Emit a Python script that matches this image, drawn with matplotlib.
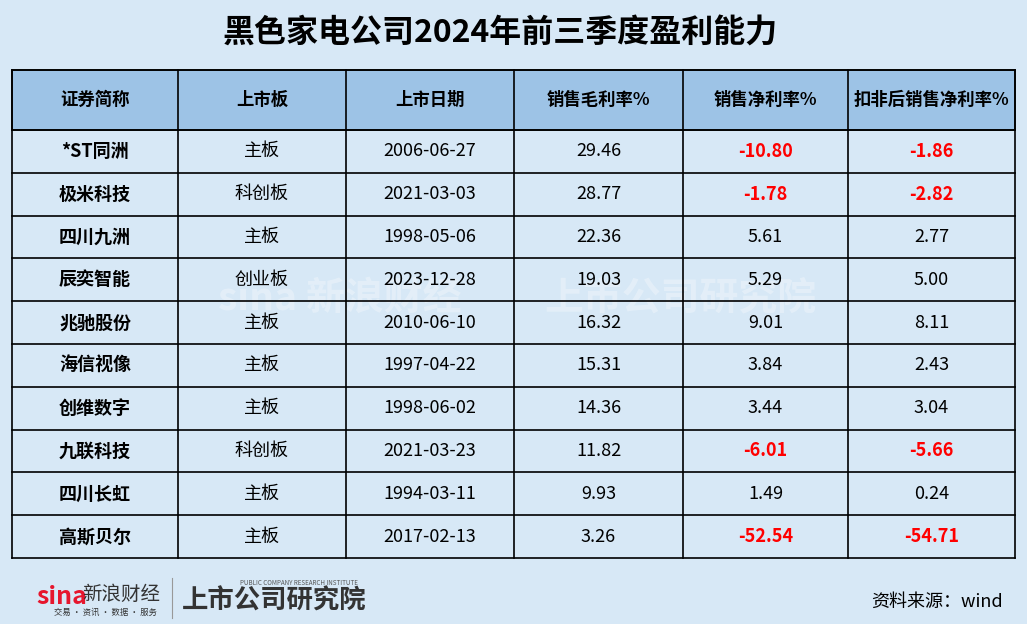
import matplotlib.pyplot as plt
from matplotlib.patches import Rectangle

plt.rcParams["font.family"] = ["Noto Sans CJK SC", "DejaVu Sans"]

title = "黑色家电公司2024年前三季度盈利能力"
headers = ["证券简称", "上市板", "上市日期", "销售毛利率%", "销售净利率%", "扣非后销售净利率%"]
names = ["*ST同洲", "极米科技", "四川九洲", "辰奕智能", "兆驰股份", "海信视像", "创维数字", "九联科技", "四川长虹", "高斯贝尔"]
boards = ["主板", "科创板", "主板", "创业板", "主板", "主板", "主板", "科创板", "主板", "主板"]
dates = ["2006-06-27", "2021-03-03", "1998-05-06", "2023-12-28", "2010-06-10",
         "1997-04-22", "1998-06-02", "2021-03-23", "1994-03-11", "2017-02-13"]
gross = [29.46, 28.77, 22.36, 19.03, 16.32, 15.31, 14.36, 11.82, 9.93, 3.26]
net = [-10.80, -1.78, 5.61, 5.29, 9.01, 3.84, 3.44, -6.01, 1.49, -52.54]
net_adj = [-1.86, -2.82, 2.77, 5.00, 8.11, 2.43, 3.04, -5.66, 0.24, -54.71]

bg = "#D7E8F6"
head_bg = "#9DC3E6"
col_x = [12, 178, 346, 514, 683, 848, 1015]
head_top, head_bot = 70, 130
row_h = (558 - head_bot) / len(names)

fig = plt.figure(figsize=(10.27, 6.24), dpi=100, facecolor=bg)
ax = fig.add_axes([0, 0, 1, 1])
ax.set_xlim(0, 1027)
ax.set_ylim(624, 0)
ax.axis("off")

ax.text(500, 34, title, ha="center", va="center", fontsize=23, fontweight="bold")

# faint watermark
ax.text(340, 298, "sina 新浪财经", fontsize=28, color="white", alpha=0.3, ha="center", va="center",
        fontweight="bold", style="italic", zorder=0)
ax.text(680, 298, "上市公司研究院", fontsize=28, color="white", alpha=0.3, ha="center", va="center",
        fontweight="bold", zorder=0)

ax.add_patch(Rectangle((col_x[0], head_top), col_x[-1] - col_x[0], head_bot - head_top,
                       facecolor=head_bg, edgecolor="black", lw=1.2))
for i, h in enumerate(headers):
    ax.text((col_x[i] + col_x[i + 1]) / 2, (head_top + head_bot) / 2, h,
            ha="center", va="center", fontsize=12.5, fontweight="bold")


def fmt(v):
    return f"{v:.2f}"


for r in range(len(names)):
    y0 = head_bot + r * row_h
    yc = y0 + row_h / 2
    cells = [names[r], boards[r], dates[r], fmt(gross[r]), fmt(net[r]), fmt(net_adj[r])]
    for c, txt in enumerate(cells):
        xc = (col_x[c] + col_x[c + 1]) / 2
        color, weight = "black", "normal"
        if c == 0:
            weight = "bold"
        if c in (4, 5) and float(txt) < 0:
            color, weight = "#FF0000", "bold"
        ax.text(xc, yc, txt, ha="center", va="center", fontsize=13, color=color, fontweight=weight)

bottom = head_bot + len(names) * row_h
for x in col_x:
    ax.plot([x, x], [head_top, bottom], color="black", lw=1.2)
for r in range(len(names) + 1):
    y = head_bot + r * row_h
    ax.plot([col_x[0], col_x[-1]], [y, y], color="black", lw=1.2)
ax.plot([col_x[0], col_x[-1]], [head_top, head_top], color="black", lw=1.2)

# footer
ax.text(36, 597, "sina", fontsize=18, color="#E6162D", fontweight="bold", style="italic", va="center")
ax.text(82, 594, "新浪财经", fontsize=14, color="#333333", va="center")
ax.text(54, 612, "交易 · 资讯 · 数据 · 服务", fontsize=6, color="#333333", va="center")
ax.plot([172, 172], [578, 618], color="#999999", lw=0.8)
ax.text(182, 601, "上市公司研究院", fontsize=19, color="#333333", fontweight="bold", va="center")
ax.text(240, 583, "PUBLIC COMPANY RESEARCH INSTITUTE", fontsize=4.5, color="#555555", va="center")
ax.text(1003, 602, "资料来源：wind", fontsize=13, ha="right", va="center")

fig.savefig("out.png", dpi=100, facecolor=bg)
